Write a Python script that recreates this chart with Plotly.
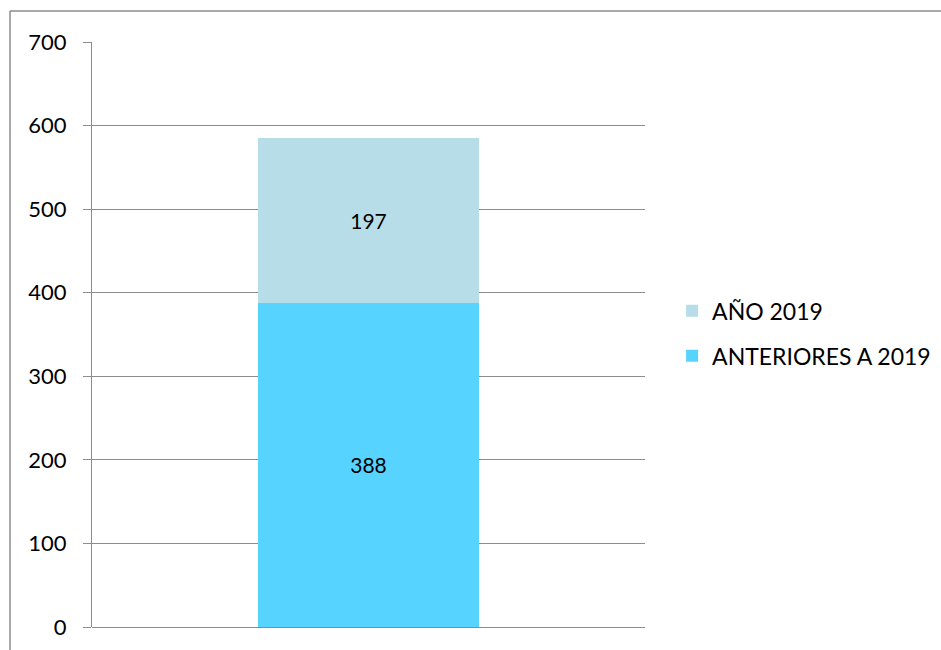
import plotly.graph_objects as go

categories = [""]
anteriores = [388]
anio2019 = [197]
series_names = ["ANTERIORES A 2019", "AÑO 2019"]
y_ticks = [0, 100, 200, 300, 400, 500, 600, 700]

FONT = "Lato"
GRID = "#8c8c8c"

fig = go.Figure()
fig.add_trace(go.Bar(
    x=categories, y=anteriores, name=series_names[0], legendgroup="b", legendrank=2,
    marker=dict(color="#57D3FF", line=dict(width=0)),
    text=[str(v) for v in anteriores], textposition="inside",
    insidetextanchor="middle", textfont=dict(color="black", size=21, family=FONT),
    width=0.4,
))
fig.add_trace(go.Bar(
    x=categories, y=anio2019, name=series_names[1], legendgroup="a", legendrank=1,
    marker=dict(color="#B7DDE8", line=dict(width=0)),
    text=[str(v) for v in anio2019], textposition="inside",
    insidetextanchor="middle", textfont=dict(color="black", size=21, family=FONT),
    width=0.4,
))

fig.update_layout(
    width=941, height=650,
    barmode="stack",
    margin=dict(l=92, r=296, t=42, b=23, autoexpand=False),
    plot_bgcolor="white", paper_bgcolor="white",
    font=dict(family=FONT, size=22, color="black"),
    uniformtext=dict(mode="show", minsize=21),
    showlegend=True,
    legend=dict(
        x=1.049, y=0.502, xanchor="left", yanchor="middle",
        traceorder="grouped", tracegroupgap=12,
        font=dict(size=23, family=FONT), itemwidth=30,
    ),
    xaxis=dict(
        range=[-0.5, 0.5], showticklabels=False, showgrid=False,
        showline=False, zeroline=False, ticks="",
    ),
    yaxis=dict(
        range=[0, 700], tickvals=y_ticks, showgrid=True, gridcolor=GRID,
        gridwidth=1.3, showline=True, linecolor=GRID, linewidth=1.3,
        ticks="outside", ticklen=8, tickcolor=GRID, tickwidth=1.3,
        zeroline=True, zerolinecolor=GRID, zerolinewidth=1.3,
        ticklabelstandoff=12, tickfont=dict(size=22, family=FONT),
    ),
    shapes=[
        dict(type="line", xref="paper", yref="paper",
             x0=(10 - 92) / 553, x1=(960 - 92) / 553,
             y0=(627 - 11) / 585, y1=(627 - 11) / 585,
             line=dict(color=GRID, width=1.5)),
        dict(type="line", xref="paper", yref="paper",
             x0=(10 - 92) / 553, x1=(10 - 92) / 553,
             y0=(627 - 11) / 585, y1=(627 - 670) / 585,
             line=dict(color=GRID, width=1.5)),
    ],
)

fig.write_html("out.html", config={"displayModeBar": False})

with open("out.html", "r", encoding="utf-8") as f:
    html = f.read()
html = html.replace("<body>", '<body style="margin:0;padding:0;overflow:hidden">', 1)
with open("out.html", "w", encoding="utf-8") as f:
    f.write(html)
